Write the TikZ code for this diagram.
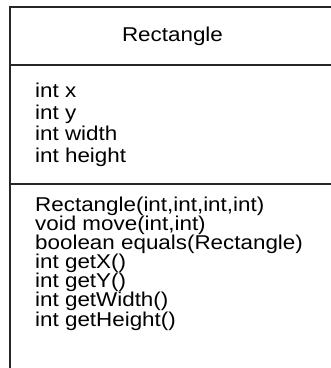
\documentclass[tikz,border=0pt]{standalone}
\usepackage{fontspec}
\setmainfont{Liberation Sans}[FakeStretch=1.12]
\begin{document}
\begin{tikzpicture}[x=1pt,y=1pt,
  frame/.style={draw=black!85, line width=2pt},
  label/.style={inner sep=0pt, font=\fontsize{20}{20}\selectfont},
  member/.style={label, anchor=base west}]
  \useasboundingbox (0,0) rectangle (331,368);
  % class box: left edge, top edge and compartment separators
  \coordinate (tl) at (10,361);
  \coordinate (bl) at (10,-2);
  \coordinate (tr) at (333,361);
  \draw[frame] (bl) -- (tl) -- (tr);
  \coordinate (s1l) at (10,303.3);
  \coordinate (s1r) at (333,303.3);
  \coordinate (s2l) at (10,183.7);
  \coordinate (s2r) at (333,183.7);
  \draw[frame] (s1l) -- (s1r);
  \draw[frame] (s2l) -- (s2r);
  % class name
  \node[label, anchor=base] (title) at (172.5,326.7) {Rectangle};
  % attributes
  \foreach \t [count=\i] in {int x, int y, int width, int height}
    \node[member] (attr\i) at (35, 270.3-21.5*\i+21.5) {\t};
  % operations
  \foreach \t [count=\i] in {{Rectangle(int,int,int,int)}, {void move(int,int)},
      {boolean equals(Rectangle)}, {int getX()}, {int getY()},
      {int getWidth()}, {int getHeight()}}
    \node[member] (op\i) at (35, 157-19.2*\i+19.2) {\t};
\end{tikzpicture}
\end{document}
